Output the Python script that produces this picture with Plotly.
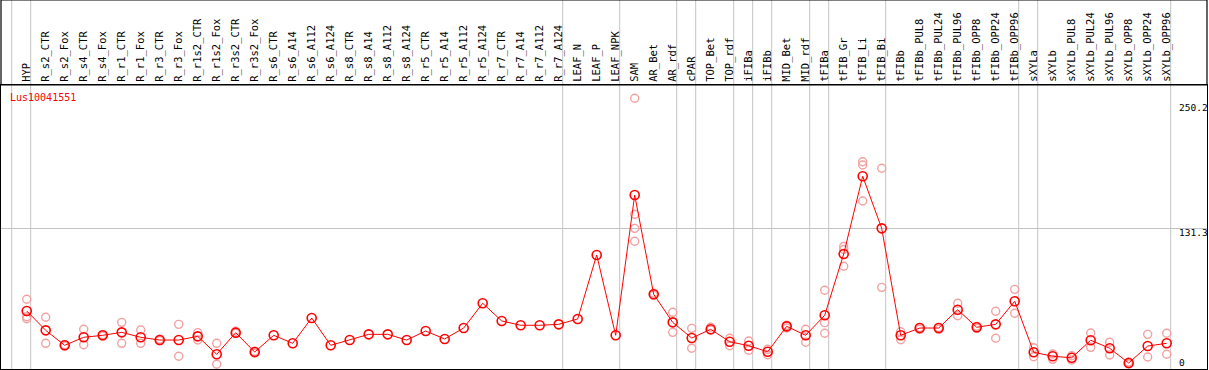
import plotly.graph_objects as go

categories = [
    "HYP", "R_s2_CTR", "R_s2_Fox", "R_s4_CTR", "R_s4_Fox", "R_r1_CTR", "R_r1_Fox",
    "R_r3_CTR", "R_r3_Fox", "R_r1s2_CTR", "R_r1s2_Fox", "R_r3s2_CTR", "R_r3s2_Fox",
    "R_s6_CTR", "R_s6_A14", "R_s6_A112", "R_s6_A124", "R_s8_CTR", "R_s8_A14",
    "R_s8_A112", "R_s8_A124", "R_r5_CTR", "R_r5_A14", "R_r5_A112", "R_r5_A124",
    "R_r7_CTR", "R_r7_A14", "R_r7_A112", "R_r7_A124", "LEAF_N", "LEAF_P", "LEAF_NPK",
    "SAM", "AR_Bet", "AR_rdf", "cPAR", "TOP_Bet", "TOP_rdf", "iFIBa", "iFIBb",
    "MID_Bet", "MID_rdf", "tFIBa", "tFIB_Gr", "tFIB_Li", "tFIB_Bi", "tFIBb",
    "tFIBb_PUL8", "tFIBb_PUL24", "tFIBb_PUL96", "tFIBb_OPP8", "tFIBb_OPP24",
    "tFIBb_OPP96", "sXYLa", "sXYLb", "sXYLb_PUL8", "sXYLb_PUL24", "sXYLb_PUL96",
    "sXYLb_OPP8", "sXYLb_OPP24", "sXYLb_OPP96",
]

mean_values = [
    52.9, 34.5, 20.3, 27.9, 29.8, 32.6, 27.9, 25.3, 25.3, 28.8, 11.8, 32.3, 13.9,
    29.8, 22.2, 46.2, 20.3, 25.3, 30.7, 30.7, 25.3, 33.9, 26.3, 36.7, 60.2,
    43.4, 39.3, 39.3, 40.2, 45.3, 106.0, 29.8,
    162.9, 68.7, 42.1, 27.2, 35.5, 23.7, 19.9, 14.2, 38.3, 29.8, 48.8, 106.9,
    180.7, 131.3, 29.8, 36.7, 36.7, 54.1, 37.4, 40.2, 62.1, 13.7, 9.9, 8.5,
    25.1, 17.5, 3.5, 19.6, 22.2,
]

replicate_values = [
    [64.0, 47.4, 45.5], [46.9, 22.2], [20.9, 19.6], [35.5, 20.9], [30.4, 29.1],
    [42.1, 22.2], [34.8, 22.2], [26.0, 24.7], [40.2, 9.9], [32.3, 25.3],
    [22.2, 2.3], [33.6, 31.7], [14.6, 13.0],
    [], [], [], [], [], [], [], [], [], [], [], [], [], [], [], [], [], [], [],
    [254.7, 144.6, 131.3, 119.0], [69.7, 67.8], [51.6, 32.6], [36.4, 17.5],
    [37.4, 34.8], [27.0, 19.9], [24.4, 15.6], [16.5, 11.4], [39.3, 36.7],
    [35.5, 23.2], [72.5, 41.8, 31.7], [114.1, 111.2, 95.3],
    [194.5, 191.4, 157.2], [188.3, 75.3], [33.2, 25.6], [37.3, 35.4],
    [37.3, 35.4], [60.2, 48.4], [38.3, 36.4], [52.6, 27.0], [73.4, 50.7],
    [18.0, 9.5], [12.1, 7.0], [10.4, 6.4], [32.0, 18.4], [23.2, 11.1],
    [4.5, 2.6], [30.7, 9.2], [31.7, 11.8],
]

# last category of each group (separators drawn just right of it)
group_ends = ["HYP", "R_r7_A124", "LEAF_NPK", "AR_rdf", "cPAR", "TOP_rdf", "iFIBa",
              "iFIBb", "MID_rdf", "tFIBa", "tFIB_Bi", "tFIBb_OPP96", "sXYLa", "sXYLb_OPP96"]

y_tick_values = [250.2, 131.3, 0]
y_tick_labels = ["250.2", "131.3", "0"]
gene_id = "Lus10041551"

W, H = 1209, 370
ML, MR, MT, MB = 1, 2, 85, 1
plot_h = H - MT - MB

xi = list(range(len(categories)))
rep_x, rep_y = [], []
for i, reps in enumerate(replicate_values):
    for v in reps:
        rep_x.append(i)
        rep_y.append(v)

fig = go.Figure()
fig.add_trace(go.Scatter(
    x=rep_x, y=rep_y, mode="markers",
    marker=dict(symbol="circle-open", size=8, color="#f2a0a0", line=dict(width=1.4, color="#f2a0a0")),
    hoverinfo="skip", showlegend=False,
))
fig.add_trace(go.Scatter(
    x=xi, y=mean_values, mode="lines+markers",
    line=dict(color="#ff0000", width=1),
    marker=dict(symbol="circle-open", size=9, color="#ff0000", line=dict(width=1.6, color="#ff0000")),
    showlegend=False,
))

shapes = []
top_paper = 1 + MT / plot_h
sep_positions = [-1] + [categories.index(c) for c in group_ends]
for p in sep_positions:
    shapes.append(dict(type="line", xref="x", yref="paper", x0=p + 0.21, x1=p + 0.21,
                       y0=0, y1=top_paper, line=dict(color="#c4c4c4", width=1), layer="below"))
shapes.append(dict(type="rect", xref="paper", yref="paper", x0=0, x1=1, y0=1, y1=top_paper,
                   line=dict(color="black", width=1.2), layer="above"))

annotations = [dict(xref="paper", yref="paper", x=7 / (W - ML - MR), y=(H - MB - 97) / plot_h,
                    text=gene_id, showarrow=False, xanchor="left", yanchor="middle",
                    font=dict(family="DejaVu Sans Mono", size=10, color="#ff0000"))]
for v, t in zip(y_tick_values, y_tick_labels):
    annotations.append(dict(xref="paper", yref="y", x=(1177 - ML) / (W - ML - MR), y=v,
                            text=t, showarrow=False, xanchor="left",
                            yanchor="bottom" if v == 0 else "top",
                            yshift=-3 if v == 0 else 3,
                            font=dict(family="DejaVu Sans Mono", size=9.5, color="black")))

fig.update_layout(
    width=W, height=H,
    margin=dict(l=ML, r=MR, t=MT, b=MB, autoexpand=False),
    paper_bgcolor="white", plot_bgcolor="white",
    shapes=shapes, annotations=annotations,
    xaxis=dict(
        range=[-1.353, 62.121], tickmode="array", tickvals=xi, ticktext=categories,
        side="top", tickangle=-90, showgrid=False, zeroline=False, ticks="",
        showline=True, mirror=True, linecolor="black", linewidth=1.2,
        tickfont=dict(family="DejaVu Sans Mono", size=10.5, color="black"),
        automargin=False,
    ),
    yaxis=dict(
        range=[-2.18, 267.3], tickmode="array", tickvals=[131.3], showticklabels=False,
        showgrid=True, gridcolor="#c4c4c4", gridwidth=1, zeroline=False, ticks="",
        showline=True, mirror=True, linecolor="black", linewidth=1.2, automargin=False,
    ),
)

fig.write_html("out.html", config={"displayModeBar": False},
               post_script="document.body.style.margin='0';document.body.style.overflow='hidden';")
